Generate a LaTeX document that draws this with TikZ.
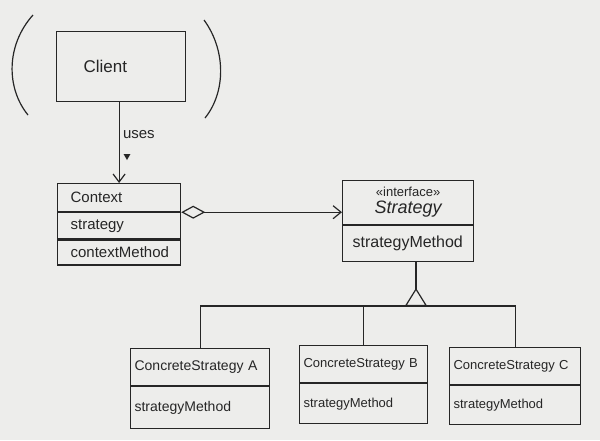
\documentclass[tikz,border=0pt]{standalone}
\usepackage{fontspec}
\setmainfont{Liberation Sans}
\usetikzlibrary{arrows.meta,positioning,shapes.geometric}
\definecolor{paper}{HTML}{EDEDEB}
\definecolor{inkcol}{HTML}{262626}

\begin{document}
\begin{tikzpicture}[x=1pt,y=-1pt,
  pen/.style={draw=inkcol, line width=1.2pt},
  cell/.style={pen, anchor=north west, align=left, inner ysep=0pt, text=inkcol},
  ctxcell/.style={cell, text width=97pt, inner xsep=13pt, font=\fontsize{15}{18}\selectfont},
  stgcell/.style={cell, text width=111pt, inner xsep=10pt, font=\fontsize{16}{19}\selectfont},
  csacell/.style={cell, text width=131pt, inner xsep=4pt, font=\fontsize{14}{17}\selectfont},
  csbcell/.style={cell, text width=120pt, inner xsep=4pt, font=\fontsize{13}{16}\selectfont},
  csccell/.style={cell, text width=123pt, inner xsep=4pt, font=\fontsize{13}{16}\selectfont},
  uses/.style={pen, -{Straight Barb[length=8pt,width=12pt]}},
  aggr/.style={pen, {Diamond[open,length=24pt,width=13pt]}-{Straight Barb[length=8pt,width=13pt]}},
  inherit/.style={pen, {Triangle[open,reversed,length=18pt,width=22pt]}-},
  tree/.style={pen}
]
\fill[paper] (0,0) rectangle (600,440);
\useasboundingbox (0,0) rectangle (600,440);

% client with brackets
\node[cell, minimum height=70pt, text width=75pt, inner xsep=27pt, font=\fontsize{17}{20}\selectfont] (client) at (56,31) {Client};
\draw[pen] (33,15) .. controls (6,45) and (6,88) .. (28,115);
\draw[pen] (204,20) .. controls (226,50) and (226,92) .. (205,118);

% context
\node[ctxcell, minimum height=28pt] (ctxname) at (57,183) {Context};
\node[ctxcell, minimum height=26pt] (ctxattr) at (ctxname.south west) {strategy};
\node[ctxcell, minimum height=25pt] (ctxop) at (ctxattr.south west) {contextMethod};

\draw[uses] (client.south -| ctxname.north) -- node[pos=0.4, right, font=\fontsize{15}{18}\selectfont, text=inkcol] (useslbl) {uses} (ctxname.north);
\node[fill=inkcol, regular polygon, regular polygon sides=3, shape border rotate=180, minimum size=8pt, inner sep=0pt] (usesdir) at (127,156) {};

% strategy interface
\node[stgcell, minimum height=44pt, align=center] (stghead) at (342,180) {{\fontsize{13}{15}\selectfont «interface»}\\[-2pt] {\fontsize{18}{20}\selectfont\itshape Strategy}};
\node[stgcell, minimum height=36pt] (stgop) at (stghead.south west) {strategyMethod};

\draw[aggr] (ctxname.south east) -- (ctxname.south east -| stghead.west);

% concrete strategies
\node[csacell, minimum height=37pt] (csaname) at (130,348) {ConcreteStrategy A};
\node[csacell, minimum height=42pt] (csaop) at (csaname.south west) {strategyMethod};
\node[csbcell, minimum height=37pt] (csbname) at (299,345) {ConcreteStrategy B};
\node[csbcell, minimum height=40pt] (csbop) at (csbname.south west) {strategyMethod};
\node[csccell, minimum height=37pt] (cscname) at (449,347) {ConcreteStrategy C};
\node[csccell, minimum height=39pt] (cscop) at (cscname.south west) {strategyMethod};

\coordinate (rail) at (416,306);
\draw[tree] (csaname.north) |- (rail) -| (cscname.north);
\draw[tree] (csbname.north) -- (csbname.north |- rail);
\draw[inherit] (rail) -- (stgop.south -| rail);
\end{tikzpicture}
\end{document}
